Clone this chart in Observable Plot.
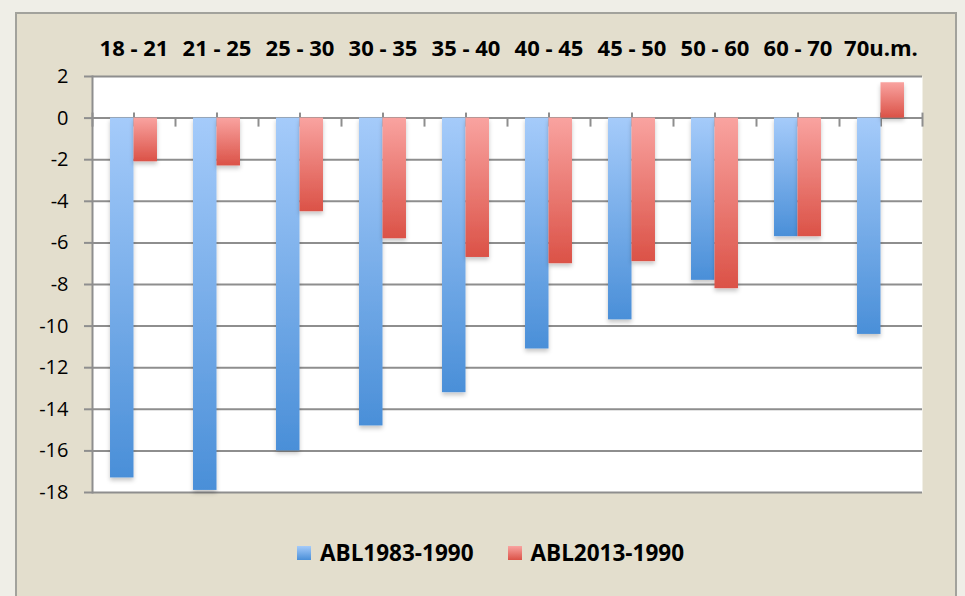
<!DOCTYPE html>
<html>
<head>
<meta charset="utf-8">
<script src="https://cdn.jsdelivr.net/npm/d3@7"></script>
<script src="https://cdn.jsdelivr.net/npm/@observablehq/plot@0.6"></script>
<style>
  html, body { margin: 0; padding: 0; }
  body {
    width: 965px; height: 596px; overflow: hidden; position: relative;
    background: #efeee7; font-family: "Open Sans", sans-serif;
  }
  .frame {
    position: absolute; left: 15px; top: 12px; width: 938px; height: 600px;
    border: 2px solid #a2a29c; background: #e3decd;
  }
  #chart { position: absolute; left: 0; top: 0; }
  .legend {
    position: absolute; left: 297px; top: 537px;
    display: flex; align-items: center;
    font-size: 22.5px; font-weight: bold; color: #000;
  }
  .legend .item { display: flex; align-items: center; }
  .legend .item + .item { margin-left: 34px; }
  .legend .swatch { width: 14px; height: 14px; margin-right: 9px; }
</style>
</head>
<body>
<div class="frame"></div>
<div id="chart"></div>
<div class="legend" id="legend"></div>
<script>
// Age bands along the top of the chart
const categories = ["18 - 21", "21 - 25", "25 - 30", "30 - 35", "35 - 40",
                    "40 - 45", "45 - 50", "50 - 60", "60 - 70", "70u.m."];
// Change per age band for each comparison
const abl1983 = [-17.3, -17.9, -16.0, -14.8, -13.2, -11.1, -9.7, -7.8, -5.7, -10.4];
const abl2013 = [-2.1, -2.3, -4.5, -5.8, -6.7, -7.0, -6.9, -8.2, -5.7, 1.7];
const seriesNames = ["ABL1983-1990", "ABL2013-1990"];
const yTicks = [-18, -16, -14, -12, -10, -8, -6, -4, -2, 0, 2];

const colors = {
  blue: ["#a5cbfa", "#4a8fd8"],
  red: ["#f9a3a0", "#db5247"]
};

const W = 965, H = 520;
const mL = 92, mR = 43, mT = 76, mB = 28;
const padInner = 0.434;
const step = (W - mL - mR) / categories.length;
const halfBand = step * (1 - padInner) / 2;
const gray = "#8e8e8e";

const blueData = categories.map((c, i) => ({cat: c, value: abl1983[i], series: seriesNames[0]}));
const redData = categories.map((c, i) => ({cat: c, value: abl2013[i], series: seriesNames[1]}));

const tickStyle = {stroke: gray, strokeWidth: 2};

const chart = Plot.plot({
  width: W,
  height: H,
  marginLeft: mL,
  marginRight: mR,
  marginTop: mT,
  marginBottom: mB,
  style: {background: "transparent", fontFamily: "'Open Sans', sans-serif", color: "#000", overflow: "visible"},
  x: {type: "band", domain: categories, paddingInner: padInner, paddingOuter: padInner / 2, round: false},
  y: {domain: [-18, 2]},
  marks: [
    // plot area
    Plot.frame({fill: "#ffffff", stroke: "none"}),
    // horizontal gridlines (0 doubles as the category axis)
    Plot.ruleY(yTicks, {...tickStyle}),
    Plot.frame({anchor: "left", ...tickStyle}),
    // tick marks on the zero line: crossing at band centres and ends, hanging at band edges
    Plot.ruleX(categories, {x: d => d, y1: 0, y2: 0, insetTop: -5, insetBottom: -9, ...tickStyle}),
    Plot.ruleX(categories.slice(0, -1), {x: d => d, dx: step / 2, y1: 0, y2: 0, insetTop: 0, insetBottom: -9, ...tickStyle}),
    Plot.ruleX(categories.slice(0, 1), {x: d => d, dx: -step / 2, y1: 0, y2: 0, insetTop: -5, insetBottom: -9, ...tickStyle}),
    Plot.ruleX(categories.slice(-1), {x: d => d, dx: step / 2, y1: 0, y2: 0, insetTop: -5, insetBottom: -9, ...tickStyle}),
    // bars
    Plot.barY(blueData, {x: "cat", y: "value", fill: "url(#grad-blue)", insetRight: halfBand}),
    Plot.barY(redData, {x: "cat", y: "value", fill: "url(#grad-red)", insetLeft: halfBand}),
    // axes
    Plot.axisX({anchor: "top", tickSize: 0, tickPadding: 21, fontSize: 22, fontWeight: "bold", fill: "#000", label: null}),
    Plot.axisY({ticks: yTicks, tickSize: 8, tickPadding: 16, fontSize: 20, fill: "#000", stroke: gray, strokeWidth: 2,
                tickFormat: d => String(d), label: null})
  ]
});

// gradients and a soft shadow under the bars
const svg = d3.select(chart);
const defs = svg.insert("defs", ":first-child");
for (const [name, [top, bottom]] of Object.entries(colors)) {
  const g = defs.append("linearGradient").attr("id", `grad-${name}`)
    .attr("x1", 0).attr("y1", 0).attr("x2", 0).attr("y2", 1);
  g.append("stop").attr("offset", "0%").attr("stop-color", top);
  g.append("stop").attr("offset", "100%").attr("stop-color", bottom);
}
const f = defs.append("filter").attr("id", "bar-shadow")
  .attr("x", "-20%").attr("y", "-10%").attr("width", "140%").attr("height", "130%");
f.append("feDropShadow").attr("dx", 0).attr("dy", 3).attr("stdDeviation", 2)
  .attr("flood-color", "#000").attr("flood-opacity", 0.22);
svg.selectAll("g[aria-label='bar'] rect").attr("filter", "url(#bar-shadow)");

document.getElementById("chart").appendChild(chart);

// legend
const legend = d3.select("#legend");
[["blue", seriesNames[0]], ["red", seriesNames[1]]].forEach(([key, name]) => {
  const item = legend.append("div").attr("class", "item");
  item.append("div").attr("class", "swatch")
    .style("background", `linear-gradient(${colors[key][0]}, ${colors[key][1]})`);
  item.append("span").text(name);
});
</script>
</body>
</html>
